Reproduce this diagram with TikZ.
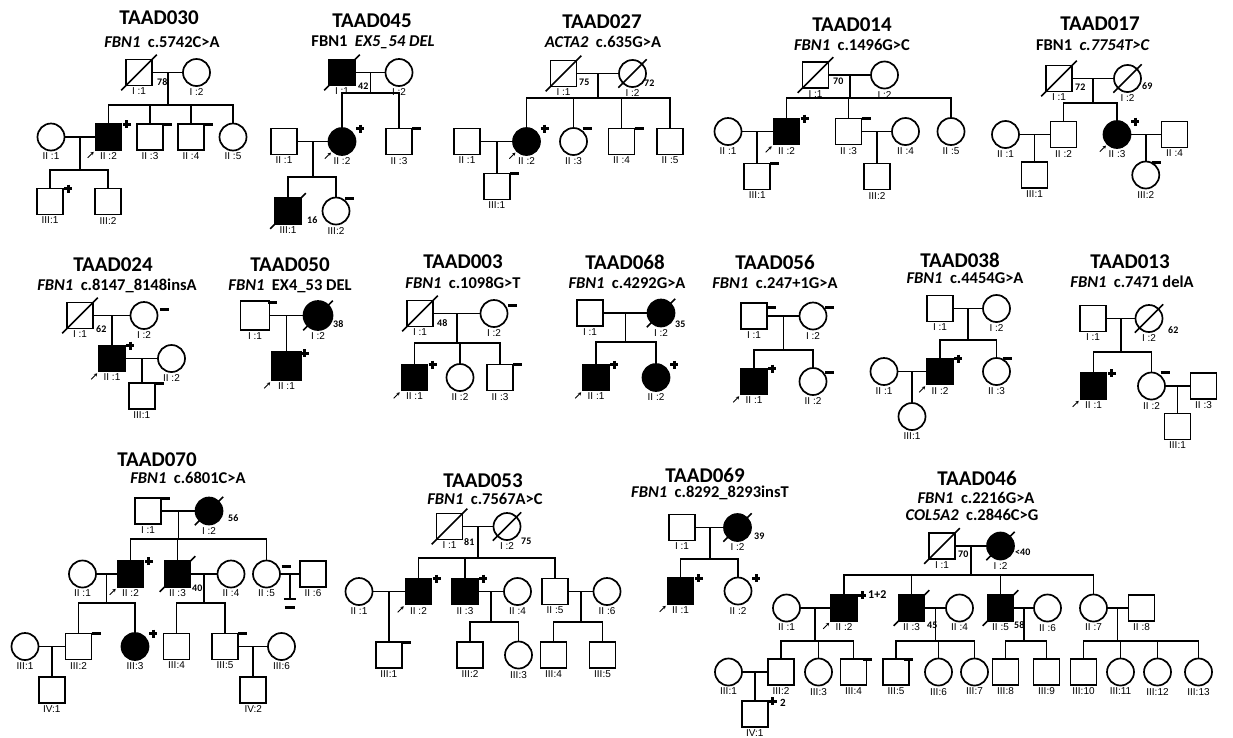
\documentclass[tikz,border=0pt]{standalone}
\usepackage{fontspec}
\setmainfont{Carlito}
\newfontfamily\labfont{Liberation Sans}
\usetikzlibrary{calc,arrows.meta}

\newcommand{\dead}[1]{\draw[rel] ([shift={(-4,4)}]#1.south west) -- ([shift={(4,-4)}]#1.north east);}
\newcommand{\posmark}[1]{\draw[sign] ([shift={(14,-13)}]#1.center) -- +(8,0) ([shift={(18,-17)}]#1.center) -- +(0,8);}
\newcommand{\negmark}[2][13,-13]{\draw[sign] ([shift={(#1)}]#2.center) -- +(9,0);}
\newcommand{\proband}[1]{\draw[prob] ([shift={(-7,7)}]#1.south west) -- ([shift={(-1,1)}]#1.south west);}

\begin{document}
\begin{tikzpicture}[x=1pt,y=-1pt,
	rel/.style={line width=1.7pt},
	male/.style={draw,line width=1.7pt,fill=white,minimum size=26pt,inner sep=0pt},
	female/.style={male,circle,minimum size=27pt},
	aff/.style={fill=black},
	big/.style={minimum size=29pt},
	id/.style={label={[idlab]below:#1}},
	idlab/.style={font=\labfont\fontsize{10}{10}\selectfont,inner sep=1.5pt},
	ttl/.style={font=\bfseries\fontsize{21}{21}\selectfont},
	gene/.style={font=\bfseries\fontsize{16.5}{16.5}\selectfont},
	age/.style={font=\bfseries\fontsize{10}{10}\selectfont,anchor=west,inner sep=0pt},
	sign/.style={line width=3pt},
	prob/.style={-{Stealth[length=3pt,width=3.5pt]},line width=0.8pt}]
	\useasboundingbox (0,0) rectangle (1233,737);

	% TAAD030
	\node[ttl] (t30t) at (159,18) {TAAD030};
	\node[gene] (t30g) at (162,42) {\textit{FBN1}\ \ c.5742C>A};
	\node[male,id={I :1}] (t30a1) at (139,72.5) {};
	\node[female,id={I :2}] (t30a2) at (196.5,72.5) {};
	\node[female,id={II :1}] (t30b1) at (51,137) {};
	\node[male,aff,id={II :2}] (t30b2) at (108.5,137) {};
	\node[male,id={II :3}] (t30b3) at (150,137) {};
	\node[male,id={II :4}] (t30b4) at (191,137) {};
	\node[female,id={II :5}] (t30b5) at (233,137) {};
	\node[male,id={III:1}] (t30c1) at (50,201.5) {};
	\node[male,id={III:2}] (t30c2) at (108,201.5) {};
	\node[age] (t30y1) at (157,82) {78};
	\coordinate (t30u1) at ($(t30a1)!.5!(t30a2)$);
	\coordinate (t30s1) at (t30u1 |- 0,105);
	\coordinate (t30u2) at ($(t30b1)!.5!(t30b2)$);
	\coordinate (t30s2) at (t30u2 |- 0,170);
	\draw[rel] (t30a1) -- (t30a2) (t30u1) -- (t30s1) (t30s1) -| (t30b2) (t30s1) -| (t30b3) (t30s1) -| (t30b4) (t30s1) -| (t30b5);
	\draw[rel] (t30b1) -- (t30b2) (t30u2) -- (t30s2) (t30s2) -| (t30c1) (t30s2) -| (t30c2);
	\dead{t30a1} \posmark{t30b2} \negmark{t30b3} \negmark{t30b4} \posmark{t30c1} \proband{t30b2}

	% TAAD045
	\node[ttl] (t45t) at (372,21) {TAAD045};
	\node[gene] (t45g) at (373,42) {FBN1\ \ \textit{EX5\_54 DEL}};
	\node[male,aff,id={I :1}] (t45a1) at (342,72.5) {};
	\node[female,id={I :2}] (t45a2) at (399,72.5) {};
	\node[male,id={II :1}] (t45b1) at (284,141.5) {};
	\node[female,aff,id={II :2}] (t45b2) at (342,141.5) {};
	\node[male,id={II :3}] (t45b3) at (399,141.5) {};
	\node[male,aff,id={III:1}] (t45c1) at (288,211) {};
	\node[female,id={III:2}] (t45c2) at (336,211) {};
	\node[age] (t45y1) at (358,86) {42};
	\node[age] (t45y2) at (307,220) {16};
	\coordinate (t45u1) at ($(t45a1)!.5!(t45a2)$);
	\coordinate (t45s1) at (t45u1 |- 0,93);
	\coordinate (t45u2) at ($(t45b1)!.5!(t45b2)$);
	\coordinate (t45s2) at (t45u2 |- 0,177);
	\draw[rel] (t45a1) -- (t45a2) (t45u1) -- (t45s1) (t45s1) -| (t45b2) (t45s1) -| (t45b3);
	\draw[rel] (t45b1) -- (t45b2) (t45u2) -- (t45s2) (t45s2) -| (t45c1) (t45s2) -| (t45c2);
	\dead{t45a1} \dead{t45c1} \posmark{t45b2} \negmark{t45b3} \negmark[9,-13]{t45c2} \proband{t45b2}

	% TAAD027
	\node[ttl] (t27t) at (602,22) {TAAD027};
	\node[gene] (t27g) at (603,42) {\textit{ACTA2}\ \ c.635G>A};
	\node[male,id={I :1}] (t27a1) at (563.5,73.5) {};
	\node[female,id={I :2}] (t27a2) at (632.5,73.5) {};
	\node[male,id={II :1}] (t27b1) at (467,141.5) {};
	\node[female,aff,id={II :2}] (t27b2) at (526.5,141.5) {};
	\node[female,id={II :3}] (t27b3) at (573.5,141.5) {};
	\node[male,id={II :4}] (t27b4) at (621.5,141.5) {};
	\node[male,id={II :5}] (t27b5) at (670,141.5) {};
	\coordinate (t27u1) at ($(t27a1)!.5!(t27a2)$);
	\coordinate (t27s1) at (t27u1 |- 0,98);
	\coordinate (t27u2) at ($(t27b1)!.5!(t27b2)$);
	\node[male,id={III:1}] (t27c1) at (t27u2 |- 0,186.5) {};
	\node[age] (t27y1) at (579,82) {75};
	\node[age] (t27y2) at (644,83) {72};
	\draw[rel] (t27a1) -- (t27a2) (t27u1) -- (t27s1) (t27s1) -| (t27b2) (t27s1) -| (t27b3) (t27s1) -| (t27b4) (t27s1) -| (t27b5);
	\draw[rel] (t27b1) -- (t27b2) (t27u2) -- (t27c1);
	\dead{t27a1} \dead{t27a2} \posmark{t27b2} \negmark[9,-13]{t27b3} \negmark{t27b4} \negmark{t27c1} \proband{t27b2}

	% TAAD014
	\node[ttl] (t14t) at (852,25) {TAAD014};
	\node[gene] (t14g) at (852,45) {\textit{FBN1}\ \ c.1496G>C};
	\node[male,id={I :1}] (t14a1) at (815.5,75) {};
	\node[female,id={I :2}] (t14a2) at (884.5,75) {};
	\node[female,id={II :1}] (t14b1) at (728,131.5) {};
	\node[male,aff,id={II :2}] (t14b2) at (786.5,131.5) {};
	\node[male,id={II :3}] (t14b3) at (848.5,131.5) {};
	\node[female,id={II :4}] (t14b4) at (905.5,131.5) {};
	\node[female,id={II :5}] (t14b5) at (951,131.5) {};
	\coordinate (t14u1) at ($(t14a1)!.5!(t14a2)$);
	\coordinate (t14s1) at (t14u1 |- 0,98);
	\coordinate (t14u2) at ($(t14b1)!.5!(t14b2)$);
	\coordinate (t14u3) at ($(t14b3)!.5!(t14b4)$);
	\node[male,id={III:1}] (t14c1) at (t14u2 |- 0,176.5) {};
	\node[male,id={III:2}] (t14c2) at (t14u3 |- 0,176.5) {};
	\node[age] (t14y1) at (833,81) {70};
	\draw[rel] (t14a1) -- (t14a2) (t14u1) -- (t14s1) (t14s1) -| (t14b2) (t14s1) -| (t14b3) (t14s1) -| (t14b5);
	\draw[rel] (t14b1) -- (t14b2) (t14u2) -- (t14c1) (t14b3) -- (t14b4) (t14u3) -- (t14c2);
	\dead{t14a1} \posmark{t14b2} \negmark{t14b3} \negmark{t14c1} \proband{t14b2}

	% TAAD017
	\node[ttl] (t17t) at (1100,24) {TAAD017};
	\node[gene] (t17g) at (1093,45) {FBN1\ \ \textit{c.7754T>C}};
	\node[male,id={I :1}] (t17a1) at (1059,78.5) {};
	\node[female,id={I :2}] (t17a2) at (1127.5,78.5) {};
	\node[female,id={II :1}] (t17b1) at (1005.5,134.5) {};
	\node[male,id={II :2}] (t17b2) at (1063.5,134.5) {};
	\node[female,aff,id={II :3}] (t17b3) at (1117,134.5) {};
	\node[male,id={II :4}] (t17b4) at (1174.5,134.5) {};
	\coordinate (t17u1) at ($(t17a1)!.5!(t17a2)$);
	\coordinate (t17s1) at (t17u1 |- 0,103);
	\coordinate (t17u2) at ($(t17b1)!.5!(t17b2)$);
	\coordinate (t17u3) at ($(t17b3)!.5!(t17b4)$);
	\node[male,id={III:1}] (t17c1) at (t17u2 |- 0,175) {};
	\node[female,id={III:2}] (t17c2) at (t17u3 |- 0,175) {};
	\node[age] (t17y1) at (1075,87) {72};
	\node[age] (t17y2) at (1142,86) {69};
	\draw[rel] (t17a1) -- (t17a2) (t17u1) -- (t17s1) (t17s1) -| (t17b2) (t17s1) -| (t17b3);
	\draw[rel] (t17b1) -- (t17b2) (t17u2) -- (t17c1) (t17b3) -- (t17b4) (t17u3) -- (t17c2);
	\dead{t17a1} \dead{t17a2} \posmark{t17b3} \negmark[6,-13]{t17c2} \proband{t17b3}

	% TAAD024
	\node[ttl] (t24t) at (113,265) {TAAD024};
	\node[gene] (t24g) at (117,286) {\textit{FBN1}\ \ c.8147\_8148insA};
	\node[male,id={I :1}] (t24a1) at (80,315.5) {};
	\node[female,id={I :2}] (t24a2) at (144,315.5) {};
	\coordinate (t24u1) at ($(t24a1)!.5!(t24a2)$);
	\node[male,aff,id={II :1}] (t24b1) at (t24u1 |- 0,358.5) {};
	\node[female,id={II :2}] (t24b2) at (171.5,358.5) {};
	\coordinate (t24u2) at ($(t24b1)!.5!(t24b2)$);
	\node[male,id={III:1}] (t24c1) at (t24u2 |- 0,396) {};
	\node[age] (t24y1) at (96,329) {62};
	\draw[rel] (t24a1) -- (t24a2) (t24u1) -- (t24b1) (t24b1) -- (t24b2) (t24u2) -- (t24c1);
	\dead{t24a1} \negmark[16,-6]{t24a2} \posmark{t24b1} \negmark{t24c1} \proband{t24b1}

	% TAAD050
	\node[ttl] (t50t) at (290,265) {TAAD050};
	\node[gene] (t50g) at (290,286) {\textit{FBN1}\ \ EX4\_53 DEL};
	\node[male,big,id={I :1}] (t50a1) at (255,315.5) {};
	\node[female,aff,big,id={I :2}] (t50a2) at (318,315.5) {};
	\coordinate (t50u1) at ($(t50a1)!.5!(t50a2)$);
	\node[male,aff,big,id={II :1}] (t50b1) at (t50u1 |- 0,366) {};
	\node[age] (t50y1) at (333,324) {38};
	\draw[rel] (t50a1) -- (t50a2) (t50u1) -- (t50b1);
	\negmark{t50a1} \dead{t50a2} \posmark{t50b1} \proband{t50b1}

	% TAAD003
	\node[ttl] (t03t) at (463,262) {TAAD003};
	\node[gene] (t03g) at (463,283) {\textit{FBN1}\ \ c.1098G>T};
	\node[male,id={I :1}] (t03a1) at (420,313.5) {};
	\node[female,id={I :2}] (t03a2) at (494,313.5) {};
	\node[male,aff,id={II :1}] (t03b1) at (414.5,377.5) {};
	\node[female,id={II :2}] (t03b2) at (460,377.5) {};
	\node[male,id={II :3}] (t03b3) at (500,377.5) {};
	\node[age] (t03y1) at (437,323) {48};
	\coordinate (t03u1) at ($(t03a1)!.5!(t03a2)$);
	\coordinate (t03s1) at (t03u1 |- 0,343);
	\draw[rel] (t03a1) -- (t03a2) (t03u1) -- (t03s1) (t03s1) -| (t03b1) (t03s1) -| (t03b2) (t03s1) -| (t03b3);
	\dead{t03a1} \negmark[14,-8.5]{t03a2} \posmark{t03b1} \negmark{t03b3} \proband{t03b1}

	% TAAD068
	\node[ttl] (t68t) at (625,262) {TAAD068};
	\node[gene] (t68g) at (627,283) {\textit{FBN1}\ \ c.4292G>A};
	\node[male,id={I :1}] (t68a1) at (590,313) {};
	\node[female,aff,id={I :2}] (t68a2) at (661,313) {};
	\node[male,aff,id={II :1}] (t68b1) at (596,377.5) {};
	\node[female,aff,id={II :2}] (t68b2) at (656,377.5) {};
	\node[age] (t68y1) at (675,324) {35};
	\coordinate (t68u1) at ($(t68a1)!.5!(t68a2)$);
	\coordinate (t68s1) at (t68u1 |- 0,342);
	\draw[rel] (t68a1) -- (t68a2) (t68u1) -- (t68s1) (t68s1) -| (t68b1) (t68s1) -| (t68b2);
	\dead{t68a2} \posmark{t68b1} \posmark{t68b2} \proband{t68b1}

	% TAAD056
	\node[ttl] (t56t) at (775,262) {TAAD056};
	\node[gene] (t56g) at (775,283) {\textit{FBN1}\ \ c.247+1G>A};
	\node[male,id={I :1}] (t56a1) at (754,316) {};
	\node[female,id={I :2}] (t56a2) at (813,316) {};
	\node[male,aff,id={II :1}] (t56b1) at (754,381.5) {};
	\node[female,id={II :2}] (t56b2) at (813,381.5) {};
	\coordinate (t56u1) at ($(t56a1)!.5!(t56a2)$);
	\coordinate (t56s1) at (t56u1 |- 0,350);
	\draw[rel] (t56a1) -- (t56a2) (t56u1) -- (t56s1) (t56s1) -| (t56b1) (t56s1) -| (t56b2);
	\negmark[13,-9]{t56a1} \negmark[12,-9]{t56a2} \posmark{t56b1} \negmark[12,-9]{t56b2} \proband{t56b1}

	% TAAD038
	\node[ttl] (t38t) at (960,260) {TAAD038};
	\node[gene] (t38g) at (965,278) {\textit{FBN1}\ \ c.4454G>A};
	\node[male,id={I :1}] (t38a1) at (940,308.5) {};
	\node[female,id={I :2}] (t38a2) at (996.5,308.5) {};
	\node[female,id={II :1}] (t38b1) at (884,371.5) {};
	\node[male,aff,id={II :2}] (t38b2) at (940,371.5) {};
	\node[female,id={II :3}] (t38b3) at (996.5,371.5) {};
	\coordinate (t38u1) at ($(t38a1)!.5!(t38a2)$);
	\coordinate (t38s1) at (t38u1 |- 0,340);
	\coordinate (t38u2) at ($(t38b1)!.5!(t38b2)$);
	\node[female,id={III:1}] (t38c1) at (t38u2 |- 0,416.5) {};
	\draw[rel] (t38a1) -- (t38a2) (t38u1) -- (t38s1) (t38s1) -| (t38b2) (t38s1) -| (t38b3);
	\draw[rel] (t38b1) -- (t38b2) (t38u2) -- (t38c1);
	\posmark{t38b2} \negmark[6,-13]{t38b3} \proband{t38b2}

	% TAAD013
	\node[ttl] (t13t) at (1130,262) {TAAD013};
	\node[gene] (t13g) at (1132,282) {\textit{FBN1}\ \ c.7471 delA};
	\node[male,id={I :1}] (t13a1) at (1093,318.5) {};
	\node[female,id={I :2}] (t13a2) at (1149,318.5) {};
	\node[male,aff,id={II :1}] (t13b1) at (1093.5,386) {};
	\node[female,id={II :2}] (t13b2) at (1151.5,386) {};
	\node[male,id={II :3}] (t13b3) at (1203.5,386) {};
	\coordinate (t13u1) at ($(t13a1)!.5!(t13a2)$);
	\coordinate (t13s1) at (t13u1 |- 0,352);
	\coordinate (t13u2) at ($(t13b2)!.5!(t13b3)$);
	\node[male,id={III:1}] (t13c1) at (t13u2 |- 0,426.5) {};
	\node[age] (t13y1) at (1168,330) {62};
	\draw[rel] (t13a1) -- (t13a2) (t13u1) -- (t13s1) (t13s1) -| (t13b1) (t13s1) -| (t13b2);
	\draw[rel] (t13b2) -- (t13b3) (t13u2) -- (t13c1);
	\dead{t13a2} \posmark{t13b1} \negmark[9,-14]{t13b2} \proband{t13b1}

	% TAAD070
	\node[ttl] (t70t) at (157,460) {TAAD070};
	\node[gene] (t70g) at (188,478) {\textit{FBN1}\ \ c.6801C>A};
	\node[male,id={I :1}] (t70a1) at (148,511) {};
	\node[female,aff,id={I :2}] (t70a2) at (209,511) {};
	\node[female,id={II :1}] (t70b1) at (82.5,574) {};
	\node[male,aff,id={II :2}] (t70b2) at (130.5,574) {};
	\node[male,aff,id={II :3}] (t70b3) at (177.5,574) {};
	\node[female,id={II :4}] (t70b4) at (231,574) {};
	\node[female,id={II :5}] (t70b5) at (266.5,574) {};
	\node[male,id={II :6}] (t70b6) at (313,574) {};
	\node[female,id={III:1}] (t70c1) at (25,646.5) {};
	\node[male,id={III:2}] (t70c2) at (78.5,646.5) {};
	\node[female,aff,id={III:3}] (t70c3) at (135,646.5) {};
	\node[male,id={III:4}] (t70c4) at (176.5,646.5) {};
	\node[male,id={III:5}] (t70c5) at (225,646.5) {};
	\node[female,id={III:6}] (t70c6) at (281.5,646.5) {};
	\coordinate (t70u1) at ($(t70a1)!.5!(t70a2)$);
	\coordinate (t70s1) at (t70u1 |- 0,539);
	\coordinate (t70u2) at ($(t70b1)!.5!(t70b2)$);
	\coordinate (t70s2) at (t70u2 |- 0,603);
	\coordinate (t70u3) at ($(t70b3)!.5!(t70b4)$);
	\coordinate (t70s3) at (t70u3 |- 0,603);
	\coordinate (t70u4) at ($(t70b5)!.5!(t70b6)$);
	\coordinate (t70n1) at (t70u4 |- 0,599);
	\coordinate (t70u5) at ($(t70c1)!.5!(t70c2)$);
	\coordinate (t70u6) at ($(t70c5)!.5!(t70c6)$);
	\node[male,id={IV:1}] (t70d1) at (t70u5 |- 0,690) {};
	\node[male,id={IV:2}] (t70d2) at (t70u6 |- 0,690) {};
	\node[age] (t70y1) at (228,518) {56};
	\node[age] (t70y2) at (192,588) {40};
	\draw[rel] (t70a1) -- (t70a2) (t70u1) -- (t70s1) (t70s1) -| (t70b2) (t70s1) -| (t70b3) (t70s1) -| (t70b5);
	\draw[rel] (t70b1) -- (t70b2) (t70u2) -- (t70s2) (t70s2) -| (t70c2) (t70s2) -| (t70c3);
	\draw[rel] (t70b3) -- (t70b4) (t70u3) -- (t70s3) (t70s3) -| (t70c4) (t70s3) -| (t70c5);
	\draw[rel] (t70b5) -- (t70b6) (t70u4) -- (t70n1) ([xshift=-6pt]t70n1) -- ([xshift=6pt]t70n1);
	\draw[sign] ([shift={(-5,8)}]t70n1) -- +(10,0);
	\draw[rel] (t70c1) -- (t70c2) (t70u5) -- (t70d1) (t70c5) -- (t70c6) (t70u6) -- (t70d2);
	\negmark{t70a1} \dead{t70a2} \posmark{t70b2} \dead{t70b3} \negmark[15,-8]{t70b5}
	\negmark{t70c2} \posmark{t70c3} \negmark{t70c5} \proband{t70b2}

	% TAAD053
	\node[ttl] (t53t) at (483,481) {TAAD053};
	\node[gene] (t53g) at (485,499) {\textit{FBN1}\ \ c.7567A>C};
	\node[male,id={I :1}] (t53a1) at (449.5,526.5) {};
	\node[female,id={I :2}] (t53a2) at (507,526.5) {};
	\node[female,id={II :1}] (t53b1) at (359,591.5) {};
	\node[male,aff,id={II :2}] (t53b2) at (418.5,591.5) {};
	\node[male,aff,id={II :3}] (t53b3) at (465,591.5) {};
	\node[female,id={II :4}] (t53b4) at (517.5,591.5) {};
	\node[male,id={II :5}] (t53b5) at (555,591.5) {};
	\node[female,id={II :6}] (t53b6) at (607,591.5) {};
	\coordinate (t53u1) at ($(t53a1)!.5!(t53a2)$);
	\coordinate (t53s1) at (t53u1 |- 0,558);
	\coordinate (t53u2) at ($(t53b1)!.5!(t53b2)$);
	\coordinate (t53u3) at ($(t53b3)!.5!(t53b4)$);
	\coordinate (t53s3) at (t53u3 |- 0,622);
	\coordinate (t53u4) at ($(t53b5)!.5!(t53b6)$);
	\coordinate (t53s4) at (t53u4 |- 0,622);
	\node[male,id={III:1}] (t53c1) at (t53u2 |- 0,655) {};
	\node[male,id={III:2}] (t53c2) at (470,655) {};
	\node[female,id={III:3}] (t53c3) at (518.5,655) {};
	\node[male,id={III:4}] (t53c4) at (553.5,655) {};
	\node[male,id={III:5}] (t53c5) at (602.5,655) {};
	\node[age] (t53y1) at (464,542) {81};
	\node[age] (t53y2) at (521,541) {75};
	\draw[rel] (t53a1) -- (t53a2) (t53u1) -- (t53s1) (t53s1) -| (t53b2) (t53s1) -| (t53b3) (t53s1) -| (t53b5);
	\draw[rel] (t53b1) -- (t53b2) (t53u2) -- (t53c1);
	\draw[rel] (t53b3) -- (t53b4) (t53u3) -- (t53s3) (t53s3) -| (t53c2) (t53s3) -| (t53c3);
	\draw[rel] (t53b5) -- (t53b6) (t53u4) -- (t53s4) (t53s4) -| (t53c4) (t53s4) -| (t53c5);
	\dead{t53a1} \dead{t53a2} \posmark{t53b2} \posmark{t53b3} \negmark{t53c1} \proband{t53b2}

	% TAAD069
	\node[ttl] (t69t) at (705,475) {TAAD069};
	\node[gene] (t69g) at (710,493) {\textit{FBN1}\ \ c.8292\_8293insT};
	\node[male,id={I :1}] (t69a1) at (682,527.5) {};
	\node[female,aff,id={I :2}] (t69a2) at (737.5,527.5) {};
	\node[male,aff,id={II :1}] (t69b1) at (680.5,591) {};
	\node[female,id={II :2}] (t69b2) at (738,591) {};
	\node[age] (t69y1) at (754,536) {39};
	\coordinate (t69u1) at ($(t69a1)!.5!(t69a2)$);
	\coordinate (t69s1) at (t69u1 |- 0,559);
	\draw[rel] (t69a1) -- (t69a2) (t69u1) -- (t69s1) (t69s1) -| (t69b1) (t69s1) -| (t69b2);
	\dead{t69a2} \posmark{t69b1} \posmark{t69b2} \proband{t69b1}

	% TAAD046
	\node[ttl] (t46t) at (977,478) {TAAD046};
	\node[gene] (t46g) at (976,498) {\textit{FBN1}\ \ c.2216G>A};
	\node[gene] (t46h) at (972,515) {\textit{COL5A2}\ \ c.2846C>G};
	\node[male,id={I :1}] (t46a1) at (942,546) {};
	\node[female,aff,id={I :2}] (t46a2) at (1000.5,546) {};
	\node[female,id={II :1}] (t46b1) at (786.5,608) {};
	\node[male,aff,id={II :2}] (t46b2) at (844,608) {};
	\node[male,aff,id={II :3}] (t46b3) at (911.5,608) {};
	\node[female,id={II :4}] (t46b4) at (959.5,608) {};
	\node[male,aff,id={II :5}] (t46b5) at (1000.5,608) {};
	\node[female,id={II :6}] (t46b6) at (1047.5,608) {};
	\node[female,id={II :7}] (t46b7) at (1093.5,608) {};
	\node[male,id={II :8}] (t46b8) at (1141.5,608) {};
	\node[female,id={III:1}] (t46c1) at (728.5,672) {};
	\node[male,id={III:2}] (t46c2) at (781,672) {};
	\node[female,id={III:3}] (t46c3) at (818.5,672) {};
	\node[male,id={III:4}] (t46c4) at (853.5,672) {};
	\node[male,id={III:5}] (t46c5) at (896,672) {};
	\node[female,id={III:6}] (t46c6) at (938.5,672) {};
	\node[female,id={III:7}] (t46c7) at (974.5,672) {};
	\node[male,id={III:8}] (t46c8) at (1005.5,672) {};
	\node[male,id={III:9}] (t46c9) at (1046.5,672) {};
	\node[male,id={III:10}] (t46c10) at (1083.5,672) {};
	\node[female,id={III:11}] (t46c11) at (1120.5,672) {};
	\node[female,id={III:12}] (t46c12) at (1157.5,672) {};
	\node[female,id={III:13}] (t46c13) at (1198.5,672) {};
	\coordinate (t46u1) at ($(t46a1)!.5!(t46a2)$);
	\coordinate (t46s1) at (t46u1 |- 0,575);
	\coordinate (t46u2) at ($(t46b1)!.5!(t46b2)$);
	\coordinate (t46s2) at (t46u2 |- 0,641);
	\coordinate (t46u3) at ($(t46b3)!.5!(t46b4)$);
	\coordinate (t46s3) at (t46u3 |- 0,641);
	\coordinate (t46u4) at ($(t46b5)!.5!(t46b6)$);
	\coordinate (t46s4) at (t46u4 |- 0,641);
	\coordinate (t46u5) at ($(t46b7)!.5!(t46b8)$);
	\coordinate (t46s5) at (t46u5 |- 0,641);
	\coordinate (t46u6) at ($(t46c1)!.5!(t46c2)$);
	\node[male,id={IV:1}] (t46d1) at (t46u6 |- 0,714) {};
	\node[age] (t46y1) at (958,554) {70};
	\node[age] (t46y2) at (1015,552) {<40};
	\node[age] (t46y3) at (927,625) {45};
	\node[age] (t46y4) at (1014,625) {58};
	\node[age,font=\bfseries\fontsize{12}{12}\selectfont] (t46n1) at (868,595) {1+2};
	\node[age,font=\bfseries\fontsize{11}{11}\selectfont] (t46n2) at (780,703) {2};
	\draw[rel] (t46a1) -- (t46a2) (t46u1) -- (t46s1) (t46s1) -| (t46b2) (t46s1) -| (t46b3) (t46s1) -| (t46b5) (t46s1) -| (t46b7);
	\draw[rel] (t46b1) -- (t46b2) (t46u2) -- (t46s2) (t46s2) -| (t46c2) (t46s2) -| (t46c3) (t46s2) -| (t46c4);
	\draw[rel] (t46b3) -- (t46b4) (t46u3) -- (t46s3) (t46s3) -| (t46c5) (t46s3) -| (t46c6) (t46s3) -| (t46c7);
	\draw[rel] (t46b5) -- (t46b6) (t46u4) -- (t46s4) (t46s4) -| (t46c8) (t46s4) -| (t46c9);
	\draw[rel] (t46b7) -- (t46b8) (t46u5) -- (t46s5) (t46s5) -| (t46c10) (t46s5) -| (t46c11) (t46s5) -| (t46c12) (t46s5) -| (t46c13);
	\draw[rel] (t46c1) -- (t46c2) (t46u6) -- (t46d1);
	\dead{t46a1} \dead{t46a2} \posmark{t46b2} \dead{t46b3} \dead{t46b5}
	\negmark[9,-13]{t46c4} \negmark[8,-13]{t46c5} \posmark{t46d1} \proband{t46b2}
\end{tikzpicture}
\end{document}
